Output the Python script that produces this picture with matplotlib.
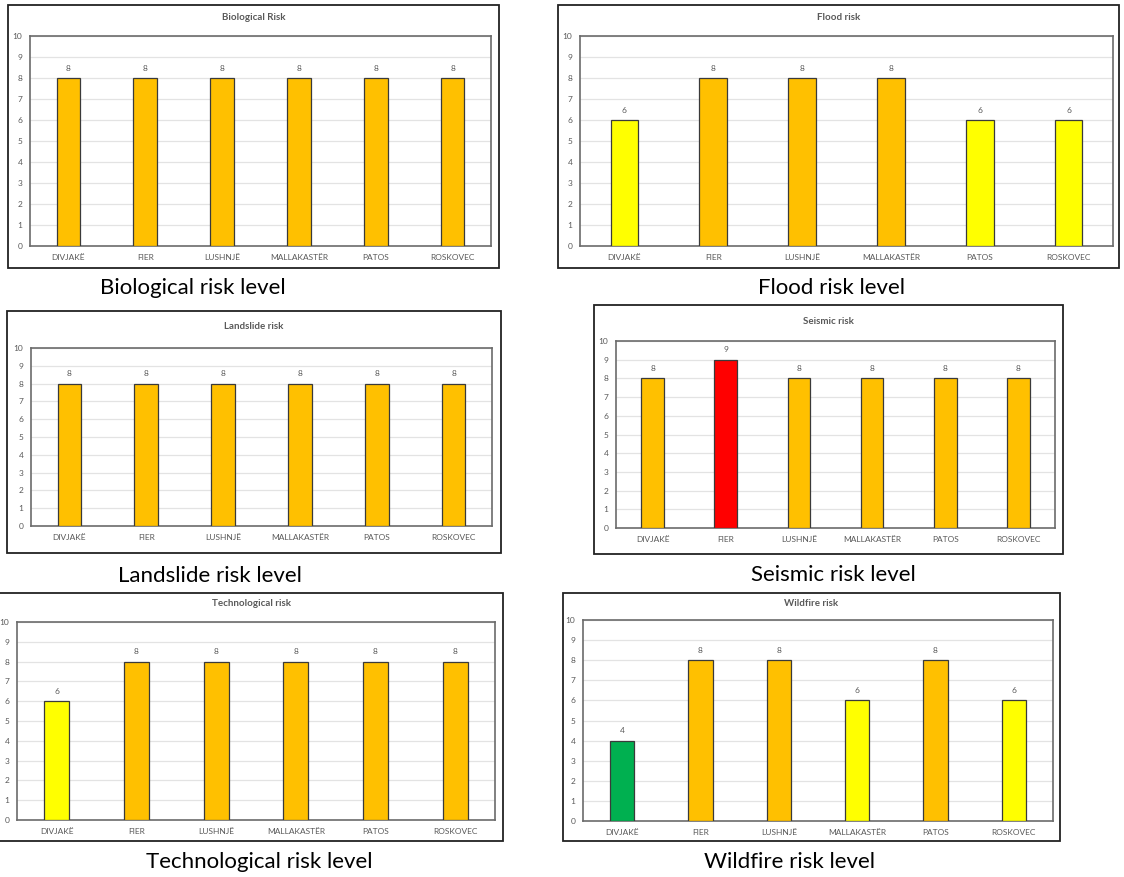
import matplotlib
matplotlib.use("Agg")
import matplotlib.pyplot as plt
from matplotlib.patches import Rectangle

plt.rcParams["font.family"] = ["Lato", "DejaVu Sans"]

W, H = 1124, 877

districts = ["DIVJAKË", "FIER", "LUSHNJË", "MALLAKASTËR", "PATOS", "ROSKOVEC"]

biological = [8, 8, 8, 8, 8, 8]
flood = [6, 8, 8, 8, 6, 6]
landslide = [8, 8, 8, 8, 8, 8]
seismic = [8, 9, 8, 8, 8, 8]
technological = [6, 8, 8, 8, 8, 8]
wildfire = [4, 8, 8, 6, 8, 6]

titles = ["Biological Risk", "Flood risk", "Landslide risk",
          "Seismic risk", "Technological risk", "Wildfire risk"]
captions = ["Biological risk level", "Flood risk level", "Landslide risk level",
            "Seismic risk level", "Technological risk level", "Wildfire risk level"]

# risk level -> bar colour
level_colors = {4: "#00B050", 6: "#FFFF00", 8: "#FFC000", 9: "#FF0000"}

# pixel layout: chart box, plot area, title y, caption (x, y)
layout = [
    dict(box=(8, 5, 499, 268), area=(30, 36, 491, 246), title_y=18, cap=(193, 288)),
    dict(box=(558, 5, 1119, 268), area=(580, 36, 1113, 246), title_y=18, cap=(831, 288)),
    dict(box=(7, 311, 501, 553), area=(31, 348, 492, 526), title_y=327, cap=(210, 576)),
    dict(box=(594, 305, 1063, 554), area=(616, 341, 1055, 528), title_y=321, cap=(833, 575)),
    dict(box=(-1, 593, 503, 841), area=(17, 622, 495, 820), title_y=604, cap=(259, 862)),
    dict(box=(563, 593, 1060, 841), area=(583, 620, 1053, 821), title_y=604, cap=(790, 862)),
]

series = [biological, flood, landslide, seismic, technological, wildfire]

TEXT = "#595959"


def fig_rect(x0, y0, x1, y1):
    return [x0 / W, 1 - y1 / H, (x1 - x0) / W, (y1 - y0) / H]


fig = plt.figure(figsize=(W / 100, H / 100), dpi=100)
fig.patch.set_facecolor("white")

for vals, title, cap, lay in zip(series, titles, captions, layout):
    l, b, w, h = fig_rect(*lay["box"])
    fig.patches.append(Rectangle((l, b), w, h, transform=fig.transFigure,
                                 fill=False, edgecolor="#222222", linewidth=1.3))

    ax = fig.add_axes(fig_rect(*lay["area"]))
    xs = range(len(districts))
    colors = [level_colors[v] for v in vals]
    bars = ax.bar(xs, vals, width=0.31, color=colors, edgecolor="#3a3a3a",
                  linewidth=0.9, zorder=3)
    for bar, v in zip(bars, vals):
        ax.annotate(str(v), (bar.get_x() + bar.get_width() / 2, v),
                    xytext=(0, 4.5), textcoords="offset points",
                    ha="center", va="bottom", fontsize=6, color=TEXT)

    ax.set_xlim(-0.5, len(districts) - 0.5)
    ax.set_ylim(0, 10)
    ax.set_yticks(range(0, 11))
    ax.set_xticks(list(xs))
    ax.set_xticklabels(districts)
    ax.tick_params(axis="both", length=0, labelsize=6, labelcolor=TEXT)
    ax.tick_params(axis="y", pad=5.5)
    ax.tick_params(axis="x", pad=6)
    ax.grid(axis="y", color="#E3E3E3", linewidth=0.9, zorder=0)
    for s in ax.spines.values():
        s.set_color("#6b6b6b")
        s.set_linewidth(1.2)

    cx = (lay["box"][0] + lay["box"][2]) / 2
    fig.text(cx / W, 1 - lay["title_y"] / H, title, ha="center", va="center",
             fontsize=7, fontweight="bold", color=TEXT)
    fig.text(lay["cap"][0] / W, 1 - lay["cap"][1] / H, cap,
             ha="center", va="center", fontsize=16, color="black")

fig.savefig("out.png", dpi=100, facecolor="white")
